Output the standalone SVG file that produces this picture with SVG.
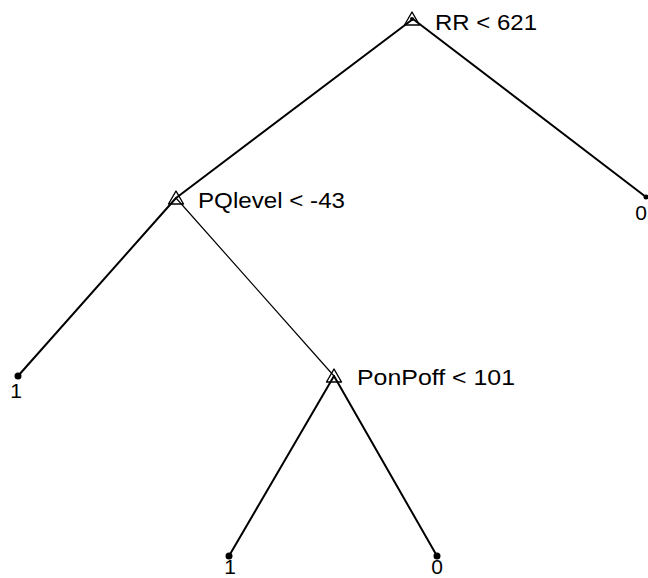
<svg xmlns="http://www.w3.org/2000/svg" width="648" height="578" viewBox="0 0 648 578">
<style>
.bg{fill:#fff}
.e{stroke:#000;stroke-width:2;fill:none;stroke-linecap:round}
.thin{stroke-width:1.2}
.tri{fill:none;stroke:#000;stroke-width:1.4;stroke-linejoin:round}
.lbl{font-family:"Liberation Sans",Arial,sans-serif;font-size:22px;fill:#000}
.leaf{font-family:"Liberation Sans",Arial,sans-serif;font-size:21px;fill:#000;text-anchor:middle}
.dot{fill:#000}
</style>
<defs>
<path id="tri" d="M0,-7 L7.5,6 L-7.5,6 Z"/>
</defs>
<rect class="bg" width="648" height="578"/>
<g id="connectors">
<line class="e" x1="413" y1="19" x2="176" y2="198"/>
<line class="e" x1="413" y1="19" x2="646" y2="197"/>
<line class="e" x1="176" y1="198" x2="18" y2="376"/>
<line class="e thin" x1="176" y1="198" x2="334" y2="376"/>
<line class="e" x1="334" y1="376" x2="229" y2="556"/>
<line class="e" x1="334" y1="376" x2="437" y2="556"/>
</g>
<g id="n_root">
<use href="#tri" class="tri" x="412" y="19"/>
<circle class="dot" cx="412" cy="19" r="2"/>
<text class="lbl" x="435" y="30" textLength="102" lengthAdjust="spacingAndGlyphs">RR &lt; 621</text>
</g>
<g id="n_pq">
<use href="#tri" class="tri" x="176" y="198"/>
<text class="lbl" x="198" y="208" textLength="147" lengthAdjust="spacingAndGlyphs">PQlevel &lt; -43</text>
</g>
<g id="n_pon">
<use href="#tri" class="tri" x="334" y="376"/>
<text class="lbl" x="357" y="385" textLength="158" lengthAdjust="spacingAndGlyphs">PonPoff &lt; 101</text>
</g>
<g id="leaf_r">
<circle class="dot" cx="646" cy="197" r="2.5"/>
<text class="leaf" x="641" y="220">0</text>
</g>
<g id="leaf_l">
<circle class="dot" cx="18" cy="376" r="3.5"/>
<text class="leaf" x="16" y="398">1</text>
</g>
<g id="leaf_pl">
<circle class="dot" cx="229" cy="556" r="3.5"/>
<text class="leaf" x="230" y="574">1</text>
</g>
<g id="leaf_pr">
<circle class="dot" cx="437" cy="556" r="3.5"/>
<text class="leaf" x="437" y="574">0</text>
</g>
</svg>
